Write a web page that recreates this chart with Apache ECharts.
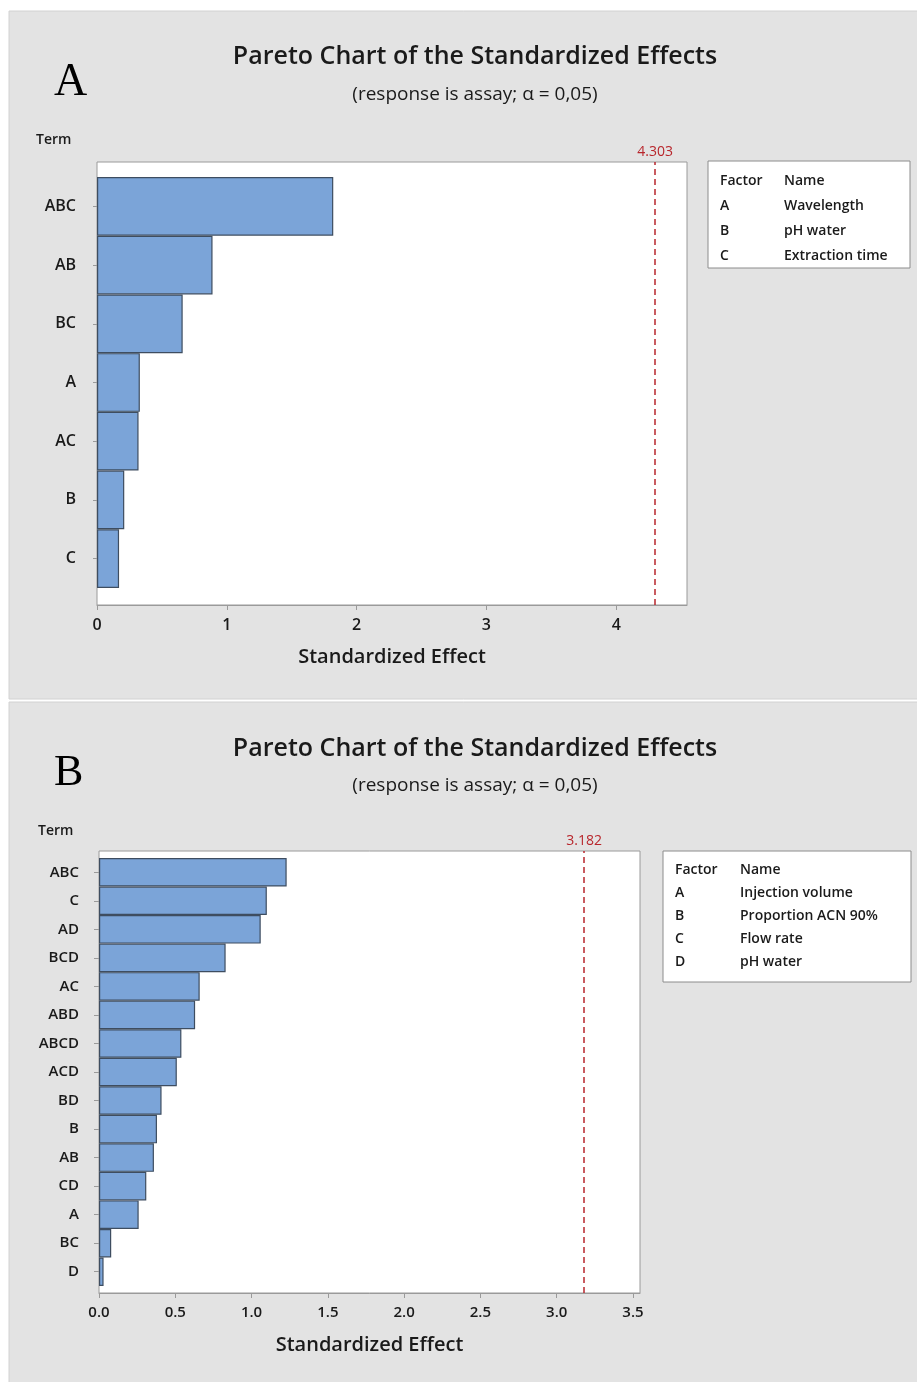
<!DOCTYPE html>
<html>
<head>
<meta charset="utf-8">
<script src="https://cdn.jsdelivr.net/npm/echarts@6/dist/echarts.min.js"></script>
<style>
html,body{margin:0;padding:0;background:#fff;}
#main{width:917px;height:1382px;}
</style>
</head>
<body>
<div id="main"></div>
<script>
// ---- Data ----
const termsA = ['ABC', 'AB', 'BC', 'A', 'AC', 'B', 'C'];
const effectsA = [1.82, 0.89, 0.66, 0.33, 0.32, 0.21, 0.17];
const ticksA = [0, 1, 2, 3, 4];
const critA = 4.303;
const factorsA = [['A', 'Wavelength'], ['B', 'pH water'], ['C', 'Extraction time']];

const termsB = ['ABC', 'C', 'AD', 'BCD', 'AC', 'ABD', 'ABCD', 'ACD', 'BD', 'B', 'AB', 'CD', 'A', 'BC', 'D'];
const effectsB = [1.23, 1.10, 1.06, 0.83, 0.66, 0.63, 0.54, 0.51, 0.41, 0.38, 0.36, 0.31, 0.26, 0.08, 0.03];
const ticksB = [0, 0.5, 1.0, 1.5, 2.0, 2.5, 3.0, 3.5];
const critB = 3.182;
const factorsB = [['A', 'Injection volume'], ['B', 'Proportion ACN 90%'], ['C', 'Flow rate'], ['D', 'pH water']];

const titleText = 'Pareto Chart of the Standardized Effects';
const subText = '(response is assay; \u03b1 = 0,05)';
const axisName = 'Standardized Effect';

// ---- Styles ----
const FONT = '"Open Sans", "Noto Sans", sans-serif';
const PANEL = '#e3e3e3';
const BAR = '#7ba4d8';
const BAR_BORDER = '#3e4d60';
const RED = '#b8262c';
const TXT = '#1a1a1a';

const chart = echarts.init(document.getElementById('main'), null, {renderer: 'canvas'});

function legendGraphic(x, y, w, h, rows, rowGap, col2, firstDy) {
  const children = [{
    type: 'rect', shape: {x: 0, y: 0, width: w, height: h},
    style: {fill: '#fff', stroke: '#8c8c8c', lineWidth: 1}
  }];
  const all = [['Factor', 'Name']].concat(rows);
  all.forEach((r, i) => {
    children.push({type: 'text', x: 12, y: firstDy + i * rowGap,
      style: {text: r[0], fill: TXT, font: '600 14px ' + FONT, textVerticalAlign: 'middle'}});
    children.push({type: 'text', x: col2, y: firstDy + i * rowGap,
      style: {text: r[1], fill: TXT, font: '600 14px ' + FONT, textVerticalAlign: 'middle'}});
  });
  return {type: 'group', x: x, y: y, children: children};
}

function critSeries(xi, yi, val) {
  return {
    type: 'scatter', xAxisIndex: xi, yAxisIndex: yi, data: [], silent: true,
    markLine: {
      symbol: ['none', 'none'], silent: true, animation: false,
      lineStyle: {color: RED, type: [6, 4], width: 1.5},
      label: {show: true, position: 'end', formatter: String(val), color: RED,
              fontSize: 14, fontFamily: FONT, distance: 3},
      data: [{xAxis: val}]
    }
  };
}

const option = {
  backgroundColor: '#fff',
  animation: false,
  textStyle: {fontFamily: FONT},
  title: [
    {text: titleText, left: 470, top: 39, textAlign: 'center',
     textStyle: {fontSize: 25, fontWeight: 600, color: TXT, fontFamily: FONT}},
    {text: subText, left: 470, top: 80, textAlign: 'center',
     textStyle: {fontSize: 19, fontWeight: 500, color: TXT, fontFamily: FONT}},
    {text: titleText, left: 470, top: 731, textAlign: 'center',
     textStyle: {fontSize: 25, fontWeight: 600, color: TXT, fontFamily: FONT}},
    {text: subText, left: 470, top: 771, textAlign: 'center',
     textStyle: {fontSize: 19, fontWeight: 500, color: TXT, fontFamily: FONT}}
  ],
  graphic: [
    {type: 'rect', z: -100, shape: {x: 9, y: 11, width: 910, height: 688},
     style: {fill: PANEL, stroke: '#d2d2d2', lineWidth: 1}},
    {type: 'rect', z: -100, shape: {x: 9, y: 702, width: 910, height: 682},
     style: {fill: PANEL, stroke: '#d2d2d2', lineWidth: 1}},
    {type: 'text', x: 54, y: 83, style: {text: 'A', fill: '#000', font: '46px "Liberation Serif", serif', textVerticalAlign: 'middle'}},
    {type: 'text', x: 54, y: 773, style: {text: 'B', fill: '#000', font: '44px "Liberation Serif", serif', textVerticalAlign: 'middle'}},
    {type: 'text', x: 36, y: 140, style: {text: 'Term', fill: TXT, font: '600 14px ' + FONT, textVerticalAlign: 'middle'}},
    {type: 'text', x: 38, y: 831, style: {text: 'Term', fill: TXT, font: '600 14px ' + FONT, textVerticalAlign: 'middle'}},
    legendGraphic(708, 161, 202, 107, factorsA, 25, 76, 20),
    legendGraphic(663, 851, 248, 131, factorsB, 23, 77, 19)
  ],
  grid: [
    {left: 97, top: 162, width: 590, height: 443, show: true, backgroundColor: '#fff', borderColor: '#9a9a9a', borderWidth: 1},
    {left: 97, top: 177, width: 590, height: 411},
    {left: 99, top: 851, width: 541, height: 442, show: true, backgroundColor: '#fff', borderColor: '#9a9a9a', borderWidth: 1},
    {left: 99, top: 858, width: 541, height: 428}
  ],
  xAxis: [
    {gridIndex: 0, type: 'value', min: 0, max: 4.545, splitLine: {show: false},
     axisLine: {show: true, lineStyle: {color: '#9a9a9a'}},
     axisTick: {show: true, length: 5, customValues: ticksA, lineStyle: {color: '#9a9a9a'}},
     axisLabel: {customValues: ticksA, fontSize: 16, fontWeight: 600, color: TXT, margin: 12, fontFamily: FONT},
     name: axisName, nameLocation: 'middle', nameGap: 42,
     nameTextStyle: {fontSize: 20, fontWeight: 600, color: TXT, fontFamily: FONT}},
    {gridIndex: 1, type: 'value', min: 0, max: 4.545, show: false},
    {gridIndex: 2, type: 'value', min: 0, max: 3.546, splitLine: {show: false},
     axisLine: {show: true, lineStyle: {color: '#9a9a9a'}},
     axisTick: {show: true, length: 5, customValues: ticksB, lineStyle: {color: '#9a9a9a'}},
     axisLabel: {customValues: ticksB, fontSize: 15, fontWeight: 600, color: TXT, margin: 12, fontFamily: FONT,
                 formatter: v => v.toFixed(1)},
     name: axisName, nameLocation: 'middle', nameGap: 42,
     nameTextStyle: {fontSize: 20, fontWeight: 600, color: TXT, fontFamily: FONT}},
    {gridIndex: 3, type: 'value', min: 0, max: 3.546, show: false}
  ],
  yAxis: [
    {gridIndex: 0, type: 'value', min: 0, max: 1, show: false},
    {gridIndex: 1, type: 'category', inverse: true, data: termsA,
     axisLine: {show: false},
     axisTick: {show: true, alignWithLabel: true, length: 4, lineStyle: {color: '#9a9a9a'}},
     axisLabel: {fontSize: 16, fontWeight: 600, color: TXT, margin: 21, fontFamily: FONT}},
    {gridIndex: 2, type: 'value', min: 0, max: 1, show: false},
    {gridIndex: 3, type: 'category', inverse: true, data: termsB,
     axisLine: {show: false},
     axisTick: {show: true, alignWithLabel: true, length: 5, lineStyle: {color: '#9a9a9a'}},
     axisLabel: {fontSize: 15, fontWeight: 600, color: TXT, margin: 20, fontFamily: FONT}}
  ],
  series: [
    {type: 'bar', xAxisIndex: 1, yAxisIndex: 1, data: effectsA, barCategoryGap: '0%',
     itemStyle: {color: BAR, borderColor: BAR_BORDER, borderWidth: 1.2}},
    critSeries(0, 0, critA),
    {type: 'bar', xAxisIndex: 3, yAxisIndex: 3, data: effectsB, barCategoryGap: '0%',
     itemStyle: {color: BAR, borderColor: BAR_BORDER, borderWidth: 1.2}},
    critSeries(2, 2, critB)
  ]
};
chart.setOption(option);
</script>
</body>
</html>
